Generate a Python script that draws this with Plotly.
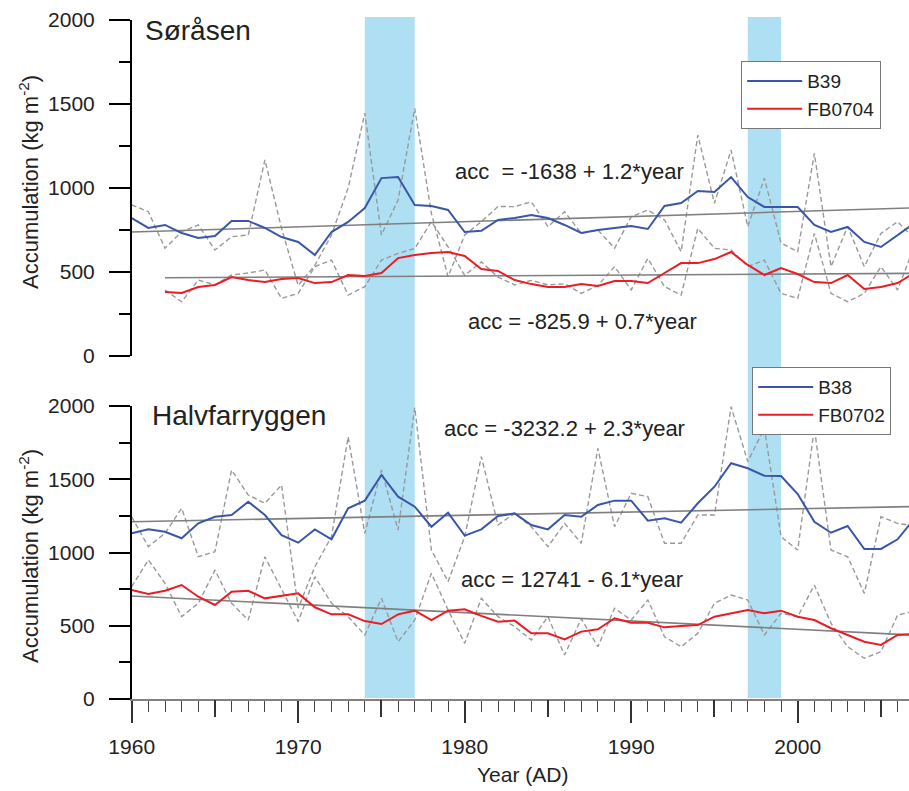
import plotly.graph_objects as go

W, H = 909, 791
def px(x): return x / W
def py(y): return 1 - y / H

years = list(range(1960, 2008))
years_fb = list(range(1962, 2008))

# Søråsen (top panel)
b39_smooth = [821, 762, 780, 732, 702, 714, 804, 804, 762, 708, 679, 601, 738, 798, 881, 1059,
              1065, 899, 893, 869, 738, 745, 810, 821, 839, 821, 780, 732, 750, 762, 774, 756,
              893, 911, 982, 976, 1065, 946, 887, 887, 887, 780, 738, 768, 679, 649, 720, 790]
b39_raw = [899, 859, 641, 740, 780, 631, 710, 720, 1167, 760, 420, 540, 720, 1000, 1445, 720,
           929, 1474, 849, 472, 720, 800, 890, 889, 918, 770, 859, 730, 750, 641, 829, 869,
           810, 621, 1315, 909, 1226, 770, 1058, 672, 621, 1206, 532, 770, 532, 730, 799, 700]
fb0704_smooth = [381, 375, 411, 423, 470, 452, 440, 458, 464, 434, 440, 482, 476, 494, 583, 601,
                 613, 619, 595, 518, 506, 452, 428, 411, 411, 428, 417, 446, 446, 434, 494, 553,
                 553, 577, 619, 542, 482, 524, 488, 440, 434, 482, 399, 411, 434, 494]
fb0704_raw = [393, 323, 452, 423, 482, 494, 512, 343, 373, 532, 571, 363, 413, 571, 611, 640,
              800, 650, 480, 560, 470, 423, 450, 423, 430, 373, 420, 532, 393, 581, 413, 363,
              760, 641, 631, 532, 571, 373, 343, 730, 373, 323, 373, 532, 393, 650]

# Halvfarryggen (bottom panel)
b38_smooth = [1131, 1158, 1142, 1097, 1199, 1244, 1256, 1347, 1256, 1119, 1067, 1158, 1090, 1302,
              1354, 1529, 1381, 1313, 1176, 1272, 1115, 1158, 1249, 1267, 1188, 1158, 1256, 1244,
              1324, 1354, 1354, 1217, 1233, 1204, 1336, 1449, 1609, 1575, 1524, 1522, 1399, 1210,
              1135, 1181, 1024, 1024, 1090, 1230]
b38_raw = [1244, 1040, 1131, 1302, 971, 1006, 1563, 1392, 1336, 1461, 620, 903, 1108, 1790, 1131,
           1563, 1154, 1990, 1017, 801, 1108, 1654, 1188, 1267, 1176, 1040, 1199, 1063, 1711, 1176,
           1404, 1381, 1063, 1063, 1256, 1256, 1995, 1620, 1848, 1108, 1017, 1848, 1017, 971, 721,
           1244, 1199, 1180]
fb0702_smooth = [744, 717, 739, 778, 698, 642, 732, 739, 687, 703, 721, 626, 578, 578, 532, 512,
                 578, 603, 539, 603, 612, 567, 528, 535, 448, 448, 407, 460, 476, 551, 521, 521,
                 489, 498, 505, 562, 585, 608, 585, 603, 562, 539, 483, 437, 391, 369, 437, 444]
fb0702_raw = [767, 949, 790, 562, 653, 880, 653, 539, 971, 744, 528, 835, 653, 562, 437, 687, 391,
              539, 858, 608, 380, 687, 562, 494, 403, 562, 300, 548, 357, 619, 539, 676, 425, 357,
              448, 653, 710, 676, 437, 585, 562, 778, 517, 357, 278, 323, 573, 600]

# Linear trends: [start value, end value] at trend_years
trend_years_b39 = [1960, 2007]
trend_b39 = [738, 882]
trend_years_fb0704 = [1962, 2007]
trend_fb0704 = [466, 492]
trend_years_b38 = [1960, 2007]
trend_b38 = [1210, 1314]
trend_years_fb0702 = [1960, 2007]
trend_fb0702 = [703, 436]

band_starts = [1974, 1997]
band_ends = [1977, 1999]

y_ticks = [0, 500, 1000, 1500, 2000]
x_ticks = [1960, 1970, 1980, 1990, 2000]
x_mid_ticks = [1965, 1975, 1985, 1995, 2005]

BLUE = "#3A56A8"
RED = "#EA1C24"
GRAY = "#999999"
TREND = "#7F7F7F"
BAND = "#AEDFF3"
FONT = "Liberation Sans, Arial, sans-serif"
TXT = "#222"

fig = go.Figure()

def add_panel(xa, ya, raw1, yrs1, raw2, yrs2, sm1, sm2, ty1, tv1, ty2, tv2, n1, n2, leg):
    fig.add_trace(go.Scatter(x=yrs1, y=raw1, mode="lines", xaxis=xa, yaxis=ya,
                             line=dict(color=GRAY, width=1.4, dash="5px,3px"), showlegend=False))
    fig.add_trace(go.Scatter(x=yrs2, y=raw2, mode="lines", xaxis=xa, yaxis=ya,
                             line=dict(color=GRAY, width=1.4, dash="5px,3px"), showlegend=False))
    fig.add_trace(go.Scatter(x=ty1, y=tv1, mode="lines", xaxis=xa, yaxis=ya,
                             line=dict(color=TREND, width=1.6), showlegend=False))
    fig.add_trace(go.Scatter(x=ty2, y=tv2, mode="lines", xaxis=xa, yaxis=ya,
                             line=dict(color=TREND, width=1.6), showlegend=False))
    fig.add_trace(go.Scatter(x=yrs1, y=sm1, mode="lines", xaxis=xa, yaxis=ya, name=n1,
                             line=dict(color=BLUE, width=2), legend=leg))
    fig.add_trace(go.Scatter(x=yrs2, y=sm2, mode="lines", xaxis=xa, yaxis=ya, name=n2,
                             line=dict(color=RED, width=2), legend=leg))

add_panel("x", "y", b39_raw, years, fb0704_raw, years_fb, b39_smooth, fb0704_smooth,
          trend_years_b39, trend_b39, trend_years_fb0704, trend_fb0704, "B39", "FB0704", "legend")
add_panel("x2", "y2", b38_raw, years, fb0702_raw, years, b38_smooth, fb0702_smooth,
          trend_years_b38, trend_b38, trend_years_fb0702, trend_fb0702, "B38", "FB0702", "legend2")

for s, e in zip(band_starts, band_ends):
    fig.add_shape(type="rect", xref="x2", yref="paper", x0=s, x1=e, y0=py(698), y1=py(17),
                  fillcolor=BAND, line=dict(width=0), layer="below")

xr = [1960, 1960 + (909 - 131.7) / 16.65]
xdom = [px(131.7), 1.0]
tickfont = dict(family=FONT, size=21, color=TXT)

yax = dict(range=[0, 2000], tickvals=y_ticks, ticks="outside", ticklen=21, tickwidth=1.5,
           tickcolor="black", showline=True, linecolor="black", linewidth=1.5, showgrid=False,
           zeroline=False, tickfont=tickfont, ticklabelstandoff=10, automargin=False,
           minor=dict(dtick=250, ticks="outside", ticklen=11, tickwidth=1.5, tickcolor="black"))

fig.update_layout(
    template="none",
    width=W, height=H, margin=dict(l=0, r=0, t=0, b=0, pad=0, autoexpand=False),
    plot_bgcolor="white", paper_bgcolor="white",
    xaxis=dict(domain=xdom, range=xr, anchor="y", showline=False, showticklabels=False,
               ticks="", showgrid=False, zeroline=False, automargin=False),
    yaxis=dict(domain=[py(356), py(20)], anchor="x", **yax),
    xaxis2=dict(domain=xdom, range=xr, anchor="y2", showline=True, linecolor="#808080",
                linewidth=2, tickvals=x_ticks, ticks="outside", ticklen=22, tickwidth=1.5,
                tickcolor="#333", showgrid=False, zeroline=False, tickfont=tickfont,
                ticklabelstandoff=6, automargin=False,
                minor=dict(dtick=1, tick0=1960, ticks="outside", ticklen=11, tickwidth=1.3,
                           tickcolor="#444")),
    xaxis3=dict(domain=xdom, range=xr, anchor="y2", overlaying="x2", showline=False,
                tickvals=x_mid_ticks, ticks="outside", ticklen=17, tickwidth=1.5,
                tickcolor="#333", showticklabels=False, showgrid=False, zeroline=False,
                automargin=False),
    yaxis2=dict(domain=[py(699), py(406)], anchor="x2", **yax),
    legend=dict(x=px(741), y=py(61), xanchor="left", yanchor="top", bgcolor="white",
                bordercolor="#777", borderwidth=1.2, font=dict(family=FONT, size=19, color=TXT),
                tracegroupgap=0, itemwidth=55),
    legend2=dict(x=px(752), y=py(367), xanchor="left", yanchor="top", bgcolor="white",
                 bordercolor="#777", borderwidth=1.2, font=dict(family=FONT, size=19, color=TXT),
                 tracegroupgap=0, itemwidth=55),
)
# dummy trace to activate xaxis3
fig.add_trace(go.Scatter(x=[xr[0]], y=[None], xaxis="x3", yaxis="y2", showlegend=False,
                         hoverinfo="skip"))

ann_font = dict(family=FONT, size=22, color=TXT)
annotations = [
    dict(text="Søråsen", x=px(143), y=py(31), xanchor="left", yanchor="middle",
         font=dict(family=FONT, size=28, color=TXT)),
    dict(text="Halvfarryggen", x=px(150), y=py(416), xanchor="left", yanchor="middle",
         font=dict(family=FONT, size=28, color=TXT)),
    dict(text="acc  = -1638 + 1.2*year", x=px(453), y=py(172), xanchor="left", yanchor="middle", font=ann_font),
    dict(text="acc = -825.9 + 0.7*year", x=px(466), y=py(321), xanchor="left", yanchor="middle", font=ann_font),
    dict(text="acc = -3232.2 + 2.3*year", x=px(442), y=py(428), xanchor="left", yanchor="middle", font=ann_font),
    dict(text="acc = 12741 - 6.1*year", x=px(459), y=py(579), xanchor="left", yanchor="middle", font=ann_font),
    dict(text="Accumulation (kg m<sup>-2</sup>)", x=px(29), y=py(182), textangle=-90,
         xanchor="center", yanchor="middle", font=dict(family=FONT, size=22, color=TXT)),
    dict(text="Accumulation (kg m<sup>-2</sup>)", x=px(29), y=py(556), textangle=-90,
         xanchor="center", yanchor="middle", font=dict(family=FONT, size=22, color=TXT)),
    dict(text="Year (AD)", x=px(522), y=py(774), xanchor="center", yanchor="middle",
         font=dict(family=FONT, size=21, color=TXT)),
]
for a in annotations:
    a.update(xref="paper", yref="paper", showarrow=False)
fig.update_layout(annotations=annotations)

fig.write_html("out.html")
